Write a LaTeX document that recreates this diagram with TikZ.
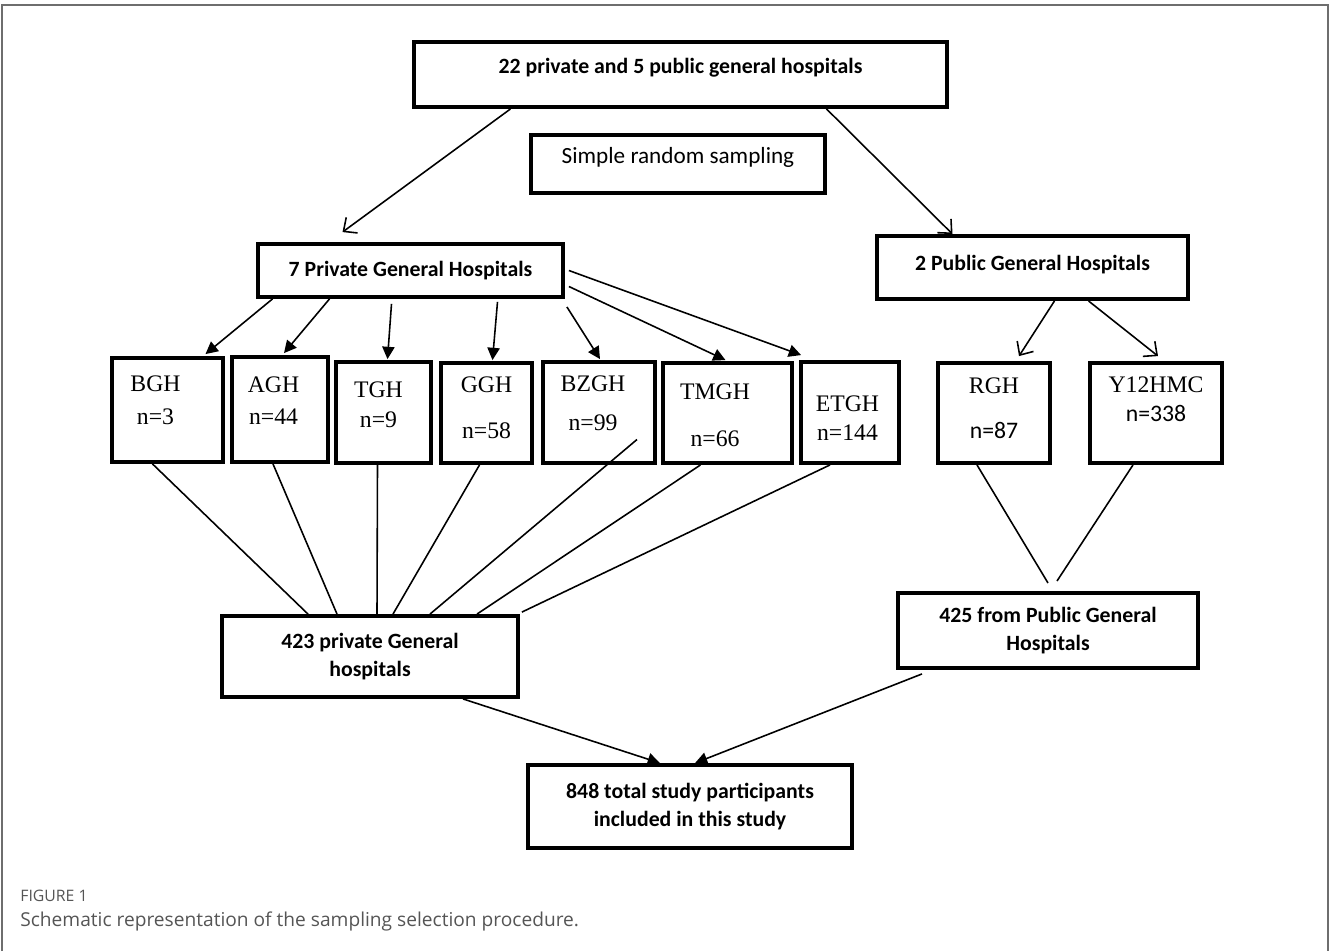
\documentclass[tikz,border=0pt]{standalone}
\usepackage{fontspec}
\setmainfont{Liberation Serif}
\newfontfamily\calibri{Carlito}
\newfontfamily\capfont{Open Sans}
\usetikzlibrary{positioning,arrows.meta,calc}
\definecolor{framegray}{HTML}{6E6E6E}
\definecolor{capgray}{HTML}{555555}
% lift text without changing the box size
\newcommand{\lift}[2]{\raisebox{#1}[\height][\depth]{#2}}
% hospital label: [shift left] {name}{n}{line gap}{raise}
\newcommand{\hlbl}[5][0pt]{\lift{#5}{\begin{tabular}{@{}c@{}}#2\\[#4]#3\end{tabular}}\hspace*{#1}}

\begin{document}
\begin{tikzpicture}[
    x=0.02cm, y=-0.02cm,
    box/.style={rectangle, draw=black, line width=2.2pt, fill=white,
                text centered, align=center, inner sep=2pt,
                font=\calibri\bfseries\fontsize{12.4}{16.4}\selectfont},
    plainbox/.style={box, font=\calibri\fontsize{13.2}{16}\selectfont},
    hosp/.style={rectangle, draw=black, line width=2.2pt, inner sep=0pt,
                 minimum width=#1, minimum height=2cm,
                 font=\fontsize{13.5}{17}\selectfont},
    arr/.style={-{Triangle[length=7pt,width=7pt]}, line width=0.9pt},
    oarr/.style={-{Straight Barb[length=6pt,width=11pt]}, line width=0.9pt},
    ln/.style={line width=0.9pt}
]
\useasboundingbox (0,0) rectangle (1330,951);
\draw[framegray, line width=1.2pt] (2,951) -- (2,5) -- (1328,5) -- (1328,951);

% top of the tree
\node[box, minimum width=10.66cm, minimum height=1.30cm] (top) at (680.5,74.5)
     {\lift{4pt}{22 private and 5 public general hospitals}};
\node[plainbox, minimum width=5.88cm, minimum height=1.16cm] (srs) at (678,164)
     {\lift{4pt}{Simple random sampling}};
\node[box, minimum width=6.10cm, minimum height=1.06cm] (priv7) at (410.5,270.5)
     {7 Private General Hospitals};
\node[box, minimum width=6.22cm, minimum height=1.26cm] (pub2) at (1032.5,267.5)
     {\lift{1.7pt}{2 Public General Hospitals}};

% sampled hospitals
\node[hosp=2.22cm, minimum height=2.08cm] (bgh) at (167.5,410)
     {\hlbl[0.48cm]{BGH}{n=3}{2pt}{4.5pt}};
\node[hosp=1.92cm, minimum height=2.10cm] (agh) at (280,409.5)
     {\hlbl[0.26cm]{AGH}{n=44}{1pt}{4pt}};
\node[hosp=1.90cm, minimum height=2.02cm] (tgh) at (383.5,412.5)
     {\hlbl[0.2cm]{TGH}{n=9}{0pt}{3.4pt}};
\node[hosp=1.82cm] (ggh) at (486.5,413)
     {\hlbl{GGH}{n=58}{9.6pt}{2pt}};
\node[hosp=2.24cm, minimum height=2.02cm] (bzgh) at (599,412.5)
     {\hlbl[0.24cm]{BZGH}{n=99}{5pt}{4.2pt}};
\node[hosp=2.58cm] (tmgh) at (727.5,413)
     {\hlbl[0.5cm]{TMGH}{n=66}{9.6pt}{-2.3pt}};
\node[hosp=1.96cm, minimum height=2.02cm] (etgh) at (850,412.5)
     {\hlbl[0.1cm]{ETGH}{n=144}{-0.5pt}{-4pt}};
\node[hosp=2.24cm] (rgh) at (994,413)
     {\hlbl{RGH}{{\calibri n=87}}{9pt}{1.7pt}};
\node[hosp=2.64cm] (y12) at (1156,413)
     {\hlbl{Y12HMC}{{\calibri n=338}}{-1pt}{6.8pt}};

% totals
\node[box, minimum width=5.92cm, minimum height=1.62cm] (priv423) at (370,656.5)
     {423 private General\\hospitals};
\node[box, minimum width=6.00cm, minimum height=1.50cm] (pub425) at (1048,630.5)
     {425 from Public General\\Hospitals};
\node[box, minimum width=6.48cm, minimum height=1.66cm] (total) at (690,806.5)
     {848 total study participants\\included in this study};

% caption
\node[anchor=west, inner sep=0, text=capgray, font=\capfont\fontsize{9}{11}\selectfont]
     (figlbl) at (20,896) {FIGURE 1};
\node[anchor=west, inner sep=0, text=capgray, font=\capfont\fontsize{10.9}{13}\selectfont]
     (figcap) at (20,921) {Schematic representation of the sampling selection procedure.};

% sampling arrows
\draw[oarr] ($(top.south)+(-170,0)$) -- ($(priv7.north)+(-68,-10)$);
\draw[oarr] ($(top.south)+(146,0)$) -- ($(pub2.north)+(-80,0)$);

\draw[arr] ($(priv7.south)+(-138,0)$) -- ($(bgh.north)+(38,-2)$);
\draw[arr] ($(priv7.south)+(-81,0)$) -- ($(agh.north)+(4,-2)$);
\draw[arr] ($(priv7.south)+(-19,5)$) -- ($(tgh.north)+(4,-1)$);
\draw[arr] ($(priv7.south)+(87,3)$) -- ($(ggh.north)+(6,-1)$);
\draw[arr] ($(priv7.south east)+(2,8)$) -- ($(bzgh.north)+(1,-1)$);
\draw[arr] ($(priv7.east)+(4,16)$) -- ($(tmgh.north)+(-2,-1)$);
\draw[arr] ($(priv7.east)+(4,0)$) -- ($(etgh.north west)+(2,-5)$);

\draw[oarr] ($(pub2.south)+(22,0)$) -- ($(rgh.north)+(25,-5)$);
\draw[oarr] ($(pub2.south)+(56,0)$) -- ($(y12.north)+(2,-5)$);

% pooling lines
\draw[ln] ($(bgh.south)+(-15,0)$) -- ($(priv423.north)+(-62,0)$);
\draw[ln] ($(agh.south)+(-7,0)$) -- ($(priv423.north)+(-33,0)$);
\draw[ln] ($(tgh.south)+(-6,0)$) -- ($(priv423.north)+(7,0)$);
\draw[ln] ($(ggh.south)+(-7,0)$) -- ($(priv423.north)+(23,0)$);
\draw[ln] ($(bzgh.center)+(38,27)$) -- ($(priv423.north)+(60,0)$);
\draw[ln] ($(tmgh.south)+(-27,0)$) -- ($(priv423.north)+(107,0)$);
\draw[ln] ($(etgh.south)+(-20,0)$) -- ($(priv423.north east)+(2,-2)$);

\coordinate (rghend) at (1048,583);
\coordinate (y12end) at (1057,581);
\draw[ln] ($(rgh.south)+(-17,0)$) -- (rghend);
\draw[ln] ($(y12.south)+(-23,0)$) -- (y12end);

\draw[arr] ($(priv423.south)+(93,0)$) -- ($(total.north)+(-30,0)$);
\draw[arr] ($(pub425.south)+(-126,4)$) -- ($(total.north)+(5,0)$);
\end{tikzpicture}
\end{document}
